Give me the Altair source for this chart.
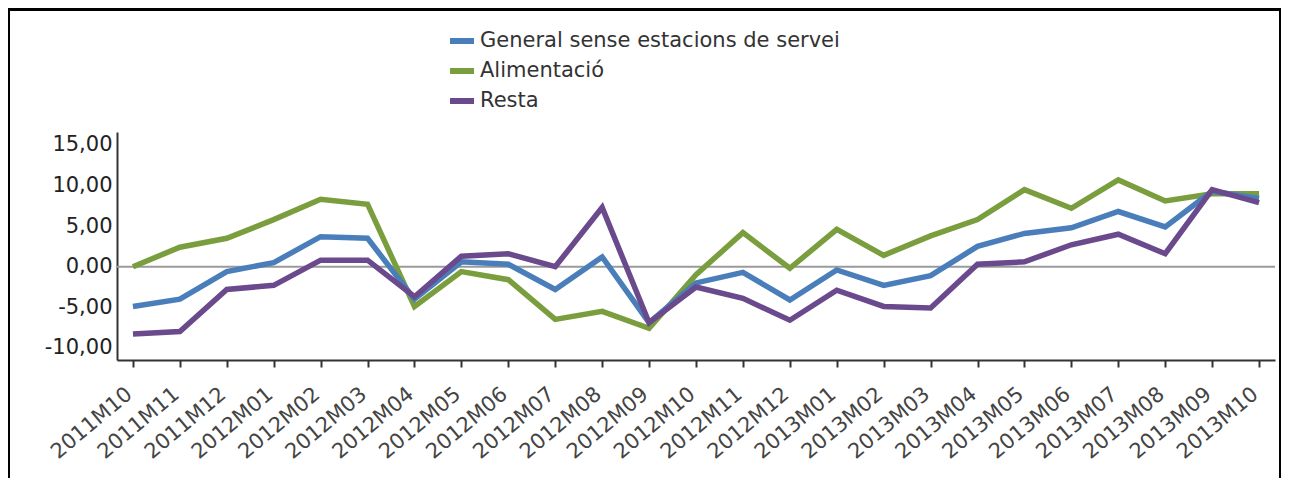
import altair as alt
import pandas as pd

months = ["2011M10", "2011M11", "2011M12", "2012M01", "2012M02", "2012M03",
          "2012M04", "2012M05", "2012M06", "2012M07", "2012M08", "2012M09",
          "2012M10", "2012M11", "2012M12", "2013M01", "2013M02", "2013M03",
          "2013M04", "2013M05", "2013M06", "2013M07", "2013M08", "2013M09",
          "2013M10"]

general = [-4.9, -4.0, -0.6, 0.5, 3.7, 3.5, -4.0, 0.6, 0.3, -2.8, 1.2, -6.9,
           -2.0, -0.7, -4.1, -0.4, -2.3, -1.1, 2.5, 4.1, 4.8, 6.8, 4.9, 9.3, 8.4]
alimentacio = [0.0, 2.4, 3.5, 5.8, 8.3, 7.7, -4.9, -0.6, -1.6, -6.5, -5.5, -7.6,
               -1.0, 4.2, -0.2, 4.6, 1.4, 3.8, 5.8, 9.5, 7.2, 10.7, 8.1, 9.0, 9.0]
resta = [-8.3, -8.0, -2.8, -2.3, 0.8, 0.8, -3.7, 1.3, 1.6, 0.0, 7.3, -6.9,
         -2.5, -3.9, -6.6, -2.9, -4.9, -5.1, 0.3, 0.6, 2.7, 4.0, 1.6, 9.5, 7.9]

series = ["General sense estacions de servei", "Alimentació", "Resta"]
colors = ["#4A7EBB", "#7A9E3E", "#6A4A8C"]

rows = []
for name, vals in zip(series, [general, alimentacio, resta]):
    for m, v in zip(months, vals):
        rows.append({"mes": m, "valor": v, "serie": name})
df = pd.DataFrame(rows)

label_expr = "replace(replace(format(datum.value, '.2f'), '.', ','), '\u2212', '-')"

x_enc = alt.X("mes:N", sort=months,
              scale=alt.Scale(type="point", padding=0.34),
              axis=alt.Axis(title=None, labelAngle=-40, labelAlign="right",
                            labelBaseline="alphabetic", labelFont="DejaVu Sans",
                            labelFontSize=21, labelColor="#444", labelOverlap=False,
                            domainColor="#333", domainWidth=2, tickColor="#333",
                            tickWidth=2, tickSize=7, labelPadding=29, grid=False))
y_enc = alt.Y("valor:Q",
              scale=alt.Scale(domain=[-11.5, 16.6], nice=False, zero=False),
              axis=alt.Axis(title=None, values=[-10, -5, 0, 5, 10, 15],
                            labelExpr=label_expr, labelFont="DejaVu Sans",
                            labelFontSize=21, labelColor="#222", domainColor="#333",
                            domainWidth=2, ticks=False, labelPadding=5, grid=False))
color_enc = alt.Color("serie:N",
                      scale=alt.Scale(domain=series, range=colors),
                      legend=alt.Legend(orient="none", legendX=330, legendY=-106,
                                        title=None, symbolType="stroke",
                                        symbolSize=576, symbolStrokeWidth=6,
                                        labelFont="DejaVu Sans", labelFontSize=21,
                                        labelColor="#333", labelOffset=3,
                                        labelLimit=0, rowPadding=3, padding=0))

base = alt.Chart(df).encode(x=x_enc, y=y_enc, color=color_enc)

one = pd.DataFrame({"a": [0]})
zero = alt.Chart(one).mark_rule(color="#9a9a9a", strokeWidth=2).encode(y=alt.Y(datum=0))

lines = [base.transform_filter(alt.datum.serie == s).mark_line(strokeWidth=5.5)
         for s in ["Alimentació", "General sense estacions de servei", "Resta"]]

frame_top = alt.Chart(one).mark_rule(color="black", strokeWidth=3).encode(
    x=alt.value(-108), x2=alt.value(1163), y=alt.value(-122.5))
frame_left = alt.Chart(one).mark_rule(color="black", strokeWidth=2).encode(
    x=alt.value(-108), y=alt.value(-124), y2=alt.value(346))
frame_right = alt.Chart(one).mark_rule(color="black", strokeWidth=2).encode(
    x=alt.value(1163), y=alt.value(-124), y2=alt.value(346))

chart = alt.layer(zero, *lines, frame_top, frame_left, frame_right).properties(
    width=1158, height=228,
    padding={"left": 109, "top": 124, "right": 6, "bottom": 118},
    autosize=alt.AutoSizeParams(type="none"),
).configure_view(stroke=None)

chart.save("out.html", embed_options={"renderer": "svg", "actions": False})
